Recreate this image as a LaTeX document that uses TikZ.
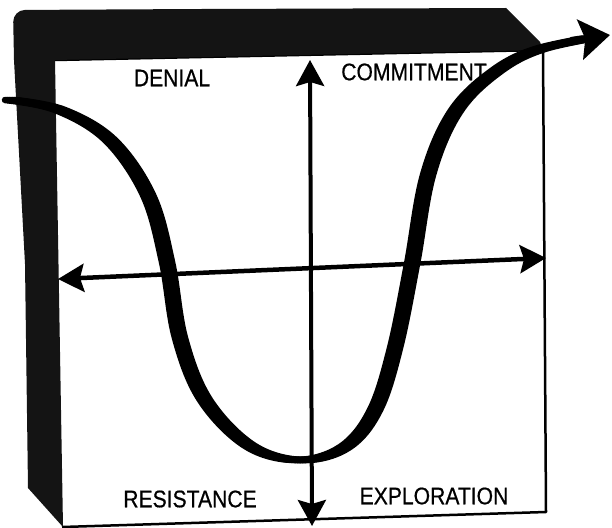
\documentclass[tikz,border=0pt]{standalone}
\usepackage{fontspec}
\newfontfamily\handfont[FakeStretch=0.88, FakeBold=0.6]{Liberation Sans}
\usetikzlibrary{arrows.meta}

\begin{document}
\begin{tikzpicture}[x=1pt, y=-1pt,
    frame/.style={fill=black!92},
    face/.style={draw=black, line width=2.5pt, line join=round, fill=white},
    axis/.style={{Stealth[length=26pt, width=28pt, inset=4pt]}-{Stealth[length=26pt, width=28pt, inset=4pt]}, line width=4pt},
    wave/.style={line width=6.5pt, line cap=round, line join=round},
    phase/.style={font=\handfont\fontsize{24}{24}\selectfont, inner sep=0pt}
]

\fill[white] (0,0) rectangle (612,527);
\useasboundingbox (0,0) rectangle (612,527);

\draw[face] (55,60) -- (543,50) -- (546,512) -- (62,527);
\fill[frame] (25,264) -- (14,60) [rounded corners=12pt] -- (13,10) -- (200,9) [sharp corners] -- (506,8) -- (540,42) -- (543,50) -- (55,60) -- (63,527) -- (28,488) -- cycle;

\coordinate (vtop) at (310,60);
\coordinate (vbot) at (312,526);
\coordinate (hleft) at (58,279);
\coordinate (hright) at (546,258);
\draw[axis] (vbot) -- (vtop);
\draw[axis, line width=4.5pt] (hleft) -- (hright);

\node (denial) [phase] at (172,78) {DENIAL};
\node (commitment) [phase] at (414,72) {COMMITMENT};
\node (resistance) [phase] at (190,499) {RESISTANCE};
\node (exploration) [phase] at (434,496) {EXPLORATION};

\def\wavepath{plot[smooth, tension=0.6] coordinates {(10,100) (60,110) (110,140) (148,195) (167,262) (180,338) (205,400) (250,446) (300,460) (345,447) (375,410) (395,348) (412,264) (428,175) (455,112) (495,72) (540,49) (610,35)}}
\foreach \dx in {-5,-2.5,2.5,5}
  \draw[wave, xshift=\dx pt, shorten >=34pt] \wavepath;
\draw[wave, -{Stealth[length=30pt, width=40pt, inset=5pt]}] \wavepath;

\end{tikzpicture}
\end{document}
